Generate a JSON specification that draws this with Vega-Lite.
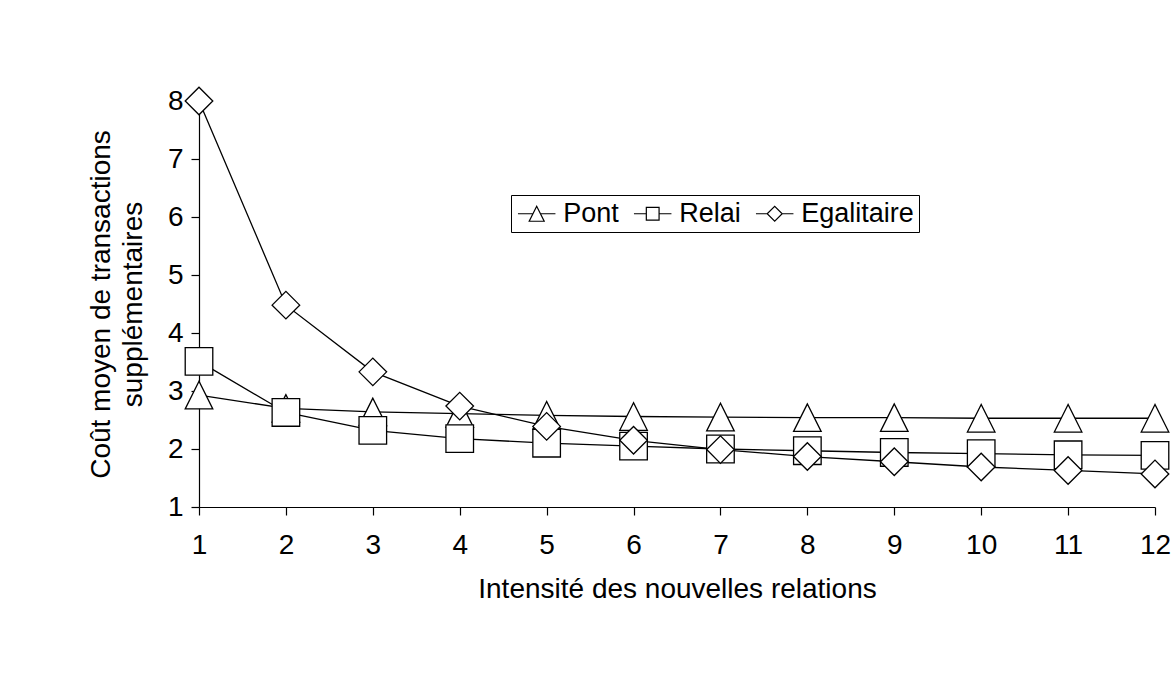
{
  "$schema": "https://vega.github.io/schema/vega-lite/v6.json",
  "width": 956,
  "height": 406,
  "autosize": {"type": "none"},
  "padding": {"left": 199, "top": 101, "right": 20, "bottom": 177},
  "background": "white",
  "config": {
    "font": "Liberation Sans",
    "view": {"stroke": null},
    "axis": {
      "grid": false,
      "domainColor": "black",
      "domainWidth": 1.2,
      "tickColor": "black",
      "tickWidth": 1.2,
      "tickSize": 8,
      "labelFont": "Liberation Sans",
      "labelFontSize": 28,
      "labelColor": "black",
      "titleFont": "Liberation Sans",
      "titleFontSize": 28,
      "titleFontWeight": "normal",
      "titleColor": "black"
    },
    "legend": {
      "labelFont": "Liberation Sans",
      "labelFontSize": 27,
      "labelColor": "black"
    }
  },
  "data": {
    "values": [
      {"x": 1, "serie": "Pont", "v": 2.93},
      {"x": 2, "serie": "Pont", "v": 2.70},
      {"x": 3, "serie": "Pont", "v": 2.64},
      {"x": 4, "serie": "Pont", "v": 2.61},
      {"x": 5, "serie": "Pont", "v": 2.58},
      {"x": 6, "serie": "Pont", "v": 2.56},
      {"x": 7, "serie": "Pont", "v": 2.55},
      {"x": 8, "serie": "Pont", "v": 2.54},
      {"x": 9, "serie": "Pont", "v": 2.54},
      {"x": 10, "serie": "Pont", "v": 2.53},
      {"x": 11, "serie": "Pont", "v": 2.53},
      {"x": 12, "serie": "Pont", "v": 2.53},
      {"x": 1, "serie": "Relai", "v": 3.51},
      {"x": 2, "serie": "Relai", "v": 2.63},
      {"x": 3, "serie": "Relai", "v": 2.32},
      {"x": 4, "serie": "Relai", "v": 2.18},
      {"x": 5, "serie": "Relai", "v": 2.10},
      {"x": 6, "serie": "Relai", "v": 2.05},
      {"x": 7, "serie": "Relai", "v": 2.00},
      {"x": 8, "serie": "Relai", "v": 1.97},
      {"x": 9, "serie": "Relai", "v": 1.94},
      {"x": 10, "serie": "Relai", "v": 1.92},
      {"x": 11, "serie": "Relai", "v": 1.90},
      {"x": 12, "serie": "Relai", "v": 1.89},
      {"x": 1, "serie": "Egalitaire", "v": 8.00},
      {"x": 2, "serie": "Egalitaire", "v": 4.48},
      {"x": 3, "serie": "Egalitaire", "v": 3.33},
      {"x": 4, "serie": "Egalitaire", "v": 2.74},
      {"x": 5, "serie": "Egalitaire", "v": 2.39},
      {"x": 6, "serie": "Egalitaire", "v": 2.15},
      {"x": 7, "serie": "Egalitaire", "v": 1.99},
      {"x": 8, "serie": "Egalitaire", "v": 1.87},
      {"x": 9, "serie": "Egalitaire", "v": 1.78},
      {"x": 10, "serie": "Egalitaire", "v": 1.69},
      {"x": 11, "serie": "Egalitaire", "v": 1.63},
      {"x": 12, "serie": "Egalitaire", "v": 1.57}
    ]
  },
  "encoding": {
    "x": {
      "field": "x",
      "type": "quantitative",
      "scale": {"domain": [1, 12], "nice": false, "zero": false},
      "axis": {
        "title": "Intensité des nouvelles relations",
        "values": [1, 2, 3, 4, 5, 6, 7, 8, 9, 10, 11, 12],
        "labelPadding": 16,
        "titlePadding": 16,
        "labelFlush": false,
        "labelOverlap": false
      }
    },
    "y": {
      "field": "v",
      "type": "quantitative",
      "scale": {"domain": [1, 8], "nice": false, "zero": false},
      "axis": {
        "title": ["Coût moyen de transactions", "supplémentaires"],
        "titleLineHeight": 32,
        "values": [1, 2, 3, 4, 5, 6, 7, 8],
        "labelPadding": 8,
        "titlePadding": 20,
        "labelFlush": false,
        "labelOverlap": false
      }
    }
  },
  "layer": [
    {
      "mark": {"type": "point", "filled": false, "stroke": "black", "strokeWidth": 1.2, "opacity": 1, "size": 0},
      "encoding": {
        "shape": {
          "field": "serie",
          "type": "nominal",
          "scale": {"domain": ["Pont", "Relai", "Egalitaire"], "range": ["M-2.5,0H-0.5M0.5,0H2.5M0,-1L-1,1L1,1Z", "M-2.5,0H-0.85M0.85,0H2.5M-0.85,-0.85H0.85V0.85H-0.85Z", "M-2.5,0H-1M1,0H2.5M-1,0L0,-1L1,0L0,1Z"]},
          "legend": {
            "title": null,
            "orient": "none",
            "direction": "horizontal",
            "legendX": 312,
            "legendY": 94,
            "padding": 5,
            "strokeColor": "black",
            "fillColor": "white",
            "symbolSize": 225,
            "symbolOffset": 7.2,
            "labelOffset": 13,
            "columnPadding": 12,
            "symbolStrokeWidth": 1.2,
            "symbolStrokeColor": "black",
            "symbolFillColor": "white",
            "symbolOpacity": 1
          }
        }
      }
    },
    {
      "mark": {"type": "line", "color": "black", "strokeWidth": 1.3},
      "encoding": {"detail": {"field": "serie"}}
    },
    {
      "mark": {"type": "point", "filled": false, "fill": "white", "fillOpacity": 1, "stroke": "black", "strokeWidth": 1.3, "opacity": 1, "size": 760},
      "encoding": {
        "shape": {
          "field": "serie",
          "type": "nominal",
          "scale": {"domain": ["Pont", "Relai", "Egalitaire"], "range": ["M0,-1L-1,1L1,1Z", "square", "diamond"]},
          "legend": null
        }
      }
    }
  ],
  "resolve": {"scale": {"shape": "independent"}, "legend": {"shape": "independent"}}
}
